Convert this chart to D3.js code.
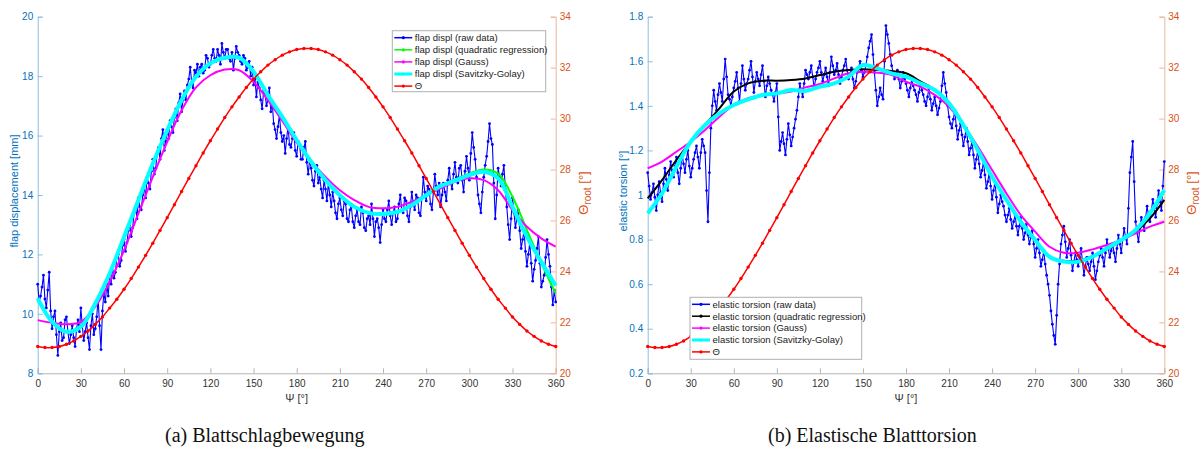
<!DOCTYPE html>
<html>
<head>
<meta charset="utf-8">
<script src="https://cdn.jsdelivr.net/npm/d3@7"></script>
<style>
  body { margin: 0; background: #fff; }
  svg { display: block; font-family: "Liberation Sans", Arial, sans-serif; }
</style>
</head>
<body>
<script>
// Psi grid
var psiRaw = d3.range(0, 361, 1);     // raw samples every 1 deg
var psiFit = d3.range(0, 361, 10);    // smoothed curves every 10 deg
var psiTheta = d3.range(0, 361, 5);   // root pitch every 5 deg
var psiTicks = d3.range(0, 361, 30);

// root pitch angle Theta [deg] (same in both panels)
var theta = [21.05,21.01,21.01,21.05,21.14,21.27,21.45,21.66,21.92,22.21,22.56,22.91,23.30,23.72,24.17,24.63,25.11,25.61,26.11,26.62,27.14,27.65,28.15,28.65,29.13,29.59,30.04,30.46,30.85,31.22,31.55,31.84,32.10,32.31,32.49,32.62,32.71,32.75,32.75,32.71,32.62,32.49,32.31,32.10,31.84,31.55,31.22,30.85,30.46,30.04,29.59,29.13,28.65,28.15,27.65,27.14,26.62,26.11,25.61,25.11,24.63,24.17,23.72,23.30,22.91,22.56,22.21,21.92,21.66,21.45,21.27,21.14,21.05];

// (a) flap displacement [mm]
var flapRaw = [11.0,10.4,10.6,10.9,11.3,10.5,10.2,10.8,11.4,10.1,9.5,9.9,10.1,9.3,8.6,9.4,9.7,9.1,9.2,9.8,
  9.9,9.4,9.0,9.3,9.6,9.2,8.9,9.5,9.8,9.4,10.2,9.6,9.1,9.4,9.7,9.2,8.8,9.6,10.0,9.3,
  9.5,9.9,10.5,9.6,8.8,10.1,10.7,10.4,11.0,10.6,11.3,11.0,11.6,11.2,11.4,11.9,12.0,11.6,11.8,12.3,
  12.5,12.1,12.4,12.8,13.0,12.6,12.9,13.4,13.6,13.2,13.9,13.6,13.5,14.0,14.3,13.9,14.6,14.4,14.2,14.8,
  15.2,14.7,14.9,15.4,15.6,15.2,15.9,16.2,15.5,15.8,16.2,15.9,16.5,16.3,16.1,16.6,16.9,16.5,17.1,17.4,
  16.8,17.2,17.5,17.2,17.7,17.9,18.3,17.8,17.6,18.2,18.1,18.4,18.0,18.3,18.4,18.1,18.2,18.7,18.6,18.3,
  18.4,18.7,18.9,18.6,18.5,18.9,18.7,18.4,19.1,18.8,18.6,18.9,18.9,18.6,18.5,18.8,18.2,18.6,19.0,18.8,
  18.7,18.5,18.4,18.7,18.6,18.2,18.3,18.5,18.0,18.3,17.7,17.9,17.3,17.8,17.6,17.2,16.9,17.5,17.4,17.0,
  17.2,17.6,16.8,17.1,16.4,16.2,15.9,16.3,16.7,16.1,15.8,16.0,15.4,15.9,16.3,15.7,15.6,15.9,16.1,15.5,
  15.3,15.8,15.7,15.2,15.2,15.6,15.8,15.1,14.7,15.2,14.9,14.5,14.3,14.8,15.0,14.4,14.6,14.2,13.9,14.5,
  14.2,13.8,14.4,14.0,13.6,14.1,13.8,13.4,13.2,13.7,13.9,13.5,13.3,13.8,13.7,13.2,13.1,13.5,13.6,13.1,
  12.9,13.3,13.5,13.1,13.0,13.6,13.4,12.9,12.8,13.2,13.3,13.0,13.7,13.2,12.6,13.1,13.2,12.9,12.4,13.0,
  13.5,13.2,13.1,13.5,13.8,13.3,13.0,13.4,13.6,13.1,13.2,13.7,14.0,13.5,13.4,13.9,13.8,13.3,13.1,13.6,
  14.1,13.7,13.5,14.0,13.9,13.4,13.3,13.9,14.6,14.1,13.8,14.3,14.2,13.7,13.5,14.1,14.7,14.3,14.0,14.4,
  13.6,14.0,14.4,14.1,13.8,14.5,14.9,14.4,14.2,14.7,15.1,14.6,14.4,14.9,15.0,14.5,14.1,14.8,15.3,14.9,
  14.5,15.4,16.1,15.6,15.2,14.6,14.0,13.7,13.4,14.1,14.6,15.0,15.3,15.8,16.4,15.9,15.7,14.4,13.2,14.0,
  14.9,14.6,14.3,14.7,15.0,14.2,13.6,13.0,12.5,13.2,13.9,13.4,12.9,13.2,13.5,12.8,12.2,12.5,12.8,12.1,
  11.6,12.0,12.4,11.7,11.1,11.5,11.8,12.2,12.6,11.7,10.9,11.1,11.3,11.9,12.5,12.0,11.6,10.9,10.3,10.8,
  10.4];
var flapQuad = [10.52,9.73,9.40,9.57,10.35,11.36,12.59,13.83,15.06,16.18,17.19,17.98,18.43,18.62,18.62,18.15,17.36,16.63,15.85,15.12,14.50,13.99,13.60,13.40,13.36,13.43,13.66,13.99,14.30,14.52,14.72,14.86,14.72,13.94,12.82,11.70,10.69];
var flapGauss = [9.79,9.70,9.65,9.73,10.24,11.08,12.14,13.38,14.61,15.79,16.85,17.62,18.03,18.22,18.20,17.81,17.19,16.49,15.76,15.14,14.61,14.16,13.83,13.60,13.55,13.60,13.77,13.99,14.22,14.44,14.56,14.50,14.16,13.49,12.93,12.54,12.26];
var flapSG = [10.52,9.73,9.40,9.57,10.35,11.36,12.59,13.83,15.06,16.18,17.19,17.98,18.43,18.62,18.62,18.15,17.36,16.63,15.85,15.12,14.50,13.99,13.60,13.40,13.36,13.43,13.66,13.99,14.30,14.48,14.67,14.78,14.56,13.60,12.59,11.75,10.95];

// (b) elastic torsion [deg]
var torsRaw = [1.10,1.04,0.98,1.01,1.05,0.99,0.93,1.00,1.06,1.01,0.97,1.05,1.12,1.07,1.02,1.09,1.15,1.11,1.08,1.13,
  1.17,1.10,1.05,1.12,1.18,1.14,1.10,1.16,1.20,1.13,1.08,1.12,1.16,1.19,1.22,1.17,1.12,1.19,1.25,1.22,
  1.19,1.02,0.88,1.10,1.30,1.40,1.47,1.42,1.38,1.45,1.50,1.46,1.42,1.52,1.61,1.53,1.45,1.43,1.40,1.44,
  1.48,1.51,1.55,1.48,1.42,1.50,1.58,1.52,1.47,1.50,1.52,1.56,1.60,1.53,1.46,1.51,1.55,1.52,1.49,1.54,
  1.58,1.51,1.44,1.49,1.53,1.50,1.47,1.45,1.42,1.46,1.50,1.35,1.20,1.24,1.28,1.23,1.18,1.25,1.32,1.27,
  1.22,1.26,1.30,1.34,1.38,1.44,1.50,1.47,1.44,1.50,1.56,1.54,1.52,1.55,1.58,1.53,1.48,1.52,1.55,1.57,
  1.60,1.55,1.51,1.54,1.57,1.53,1.49,1.55,1.62,1.58,1.54,1.56,1.59,1.54,1.50,1.53,1.56,1.58,1.61,1.56,
  1.52,1.54,1.57,1.52,1.48,1.51,1.55,1.57,1.60,1.56,1.53,1.55,1.58,1.62,1.66,1.69,1.72,1.63,1.55,1.47,
  1.40,1.44,1.48,1.45,1.43,1.60,1.76,1.72,1.68,1.63,1.58,1.55,1.52,1.54,1.56,1.52,1.48,1.51,1.55,1.52,
  1.50,1.47,1.44,1.48,1.52,1.49,1.47,1.45,1.42,1.46,1.50,1.47,1.45,1.42,1.40,1.44,1.48,1.43,1.38,1.41,
  1.44,1.40,1.36,1.39,1.42,1.49,1.55,1.50,1.46,1.40,1.35,1.32,1.30,1.34,1.38,1.31,1.25,1.29,1.32,1.27,
  1.22,1.26,1.30,1.24,1.18,1.21,1.24,1.18,1.12,1.16,1.20,1.14,1.08,1.11,1.15,1.09,1.03,1.06,1.10,1.04,
  0.98,1.02,1.06,0.99,0.92,0.96,1.00,0.97,0.95,0.91,0.88,0.91,0.94,0.89,0.85,0.88,0.91,0.86,0.82,0.86,
  0.90,0.85,0.80,0.83,0.87,0.82,0.78,0.81,0.84,0.78,0.72,0.76,0.80,0.74,0.68,0.71,0.75,0.69,0.64,0.60,
  0.55,0.48,0.42,0.37,0.33,0.46,0.60,0.69,0.78,0.82,0.86,0.79,0.72,0.76,0.80,0.73,0.66,0.70,0.74,0.71,
  0.68,0.72,0.76,0.70,0.64,0.68,0.72,0.69,0.66,0.70,0.74,0.68,0.62,0.66,0.70,0.73,0.76,0.72,0.68,0.74,
  0.80,0.76,0.72,0.75,0.78,0.74,0.70,0.76,0.82,0.78,0.74,0.80,0.85,0.81,0.78,0.94,1.10,1.17,1.24,1.06,
  0.88,0.83,0.79,0.85,0.90,0.87,0.84,0.90,0.95,0.91,0.88,0.93,0.98,0.94,0.90,0.96,1.02,0.97,0.93,1.04,
  1.15];
var torsQuad = [0.985,1.067,1.157,1.239,1.314,1.389,1.464,1.501,1.513,1.513,1.516,1.523,1.538,1.553,1.561,1.564,1.561,1.556,1.546,1.51,1.471,1.404,1.314,1.202,1.082,0.978,0.880,0.798,0.723,0.705,0.705,0.726,0.756,0.795,0.835,0.895,0.978];
var torsGauss = [1.120,1.150,1.194,1.239,1.292,1.351,1.404,1.434,1.449,1.456,1.464,1.483,1.498,1.523,1.546,1.553,1.549,1.538,1.508,1.486,1.449,1.396,1.314,1.217,1.112,1.007,0.910,0.836,0.768,0.741,0.741,0.756,0.776,0.798,0.828,0.858,0.880];
var torsSG = [0.918,1.007,1.127,1.239,1.314,1.366,1.404,1.429,1.449,1.456,1.471,1.467,1.486,1.501,1.531,1.583,1.568,1.546,1.531,1.501,1.471,1.411,1.314,1.202,1.082,0.978,0.880,0.798,0.723,0.701,0.701,0.723,0.761,0.798,0.843,0.918,1.022];

var blueAx = "#0072BD", redAx = "#D95319";
var w = 1203, h = 449;
var plotTop = 16.7, plotBottom = 373.3;

var svg = d3.select("body").append("svg")
  .attr("width", w)
  .attr("height", h);

function drawPanel(p) {
  var x = d3.scaleLinear().domain([0, 360]).range([p.x0, p.x1]);
  var yL = d3.scaleLinear().domain(p.yDomain).range([plotBottom, plotTop]);
  var yR = d3.scaleLinear().domain([20, 34]).range([plotBottom, plotTop]);
  var g = svg.append("g");

  // axes
  var xa = g.append("g").attr("transform", "translate(0," + plotBottom + ")")
    .call(d3.axisBottom(x).tickValues(psiTicks).tickSize(-5).tickPadding(7));
  xa.select(".domain").attr("stroke", "#b4b4b4");
  xa.selectAll(".tick line").attr("stroke", "#b4b4b4");
  xa.selectAll("text").attr("fill", "#333").style("font-size", "10px");

  var la = g.append("g").attr("transform", "translate(" + p.x0 + ",0)")
    .call(d3.axisLeft(yL).tickValues(p.yTicks).tickFormat(p.fmt).tickSize(-5).tickPadding(4.5));
  la.select(".domain").attr("stroke", "#8dbde3");
  la.selectAll(".tick line").attr("stroke", "#8dbde3");
  la.selectAll("text").attr("fill", blueAx).style("font-size", "10px");

  var ra = g.append("g").attr("transform", "translate(" + p.x1 + ",0)")
    .call(d3.axisRight(yR).tickValues(d3.range(20, 35, 2)).tickSize(-5).tickPadding(4));
  ra.select(".domain").attr("stroke", "#efb49a");
  ra.selectAll(".tick line").attr("stroke", "#efb49a");
  ra.selectAll("text").attr("fill", redAx).style("font-size", "10px");

  // axis labels
  g.append("text")
    .attr("transform", "translate(" + (p.x0 + p.ylabDx) + "," + 191 + ") rotate(-90)")
    .attr("text-anchor", "middle").attr("dy", "0.35em")
    .attr("fill", blueAx).style("font-size", "11px")
    .text(p.ylabel);
  var tl = g.append("text")
    .attr("transform", "translate(" + (p.x1 + 27.5) + "," + 193 + ") rotate(-90)")
    .attr("text-anchor", "middle").attr("dy", "0.35em")
    .attr("fill", redAx).style("font-size", "13px");
  tl.append("tspan").text("\u0398");
  tl.append("tspan").attr("dy", "3").style("font-size", "10px").text("root");
  tl.append("tspan").attr("dy", "-3").text(" [\u00b0]");
  g.append("text")
    .attr("x", (p.x0 + p.x1) / 2).attr("y", 398)
    .attr("text-anchor", "middle").attr("dy", "0.35em")
    .attr("fill", "#333").style("font-size", "11px")
    .text("\u03a8 [\u00b0]");

  // caption
  g.append("text")
    .attr("x", p.capX).attr("y", 442)
    .style("font-family", "'Liberation Serif', 'DejaVu Serif', serif")
    .style("font-size", "20px").attr("fill", "#111")
    .text(p.caption);

  // series
  function line(xs, ys, yscale, col, lw, curve) {
    var pts = xs.map(function(d, i) { return [d, ys[i]]; });
    var l = d3.line().x(function(d) { return x(d[0]); }).y(function(d) { return yscale(d[1]); });
    if (curve) l.curve(d3.curveCatmullRom);
    g.append("path").datum(pts).attr("d", l)
      .attr("fill", "none").attr("stroke", col).attr("stroke-width", lw)
      .attr("stroke-linejoin", "round");
    return pts;
  }
  function dots(pts, yscale, col, r) {
    g.append("g").selectAll("circle").data(pts).enter().append("circle")
      .attr("cx", function(d) { return x(d[0]); })
      .attr("cy", function(d) { return yscale(d[1]); })
      .attr("r", r).attr("fill", col);
  }

  var rp = line(psiRaw, p.raw, yL, "#0000ff", 1.1, false);
  dots(rp, yL, "#0000ff", 1.4);
  line(psiFit, p.quad, yL, p.quadCol, 2, true);
  line(psiFit, p.gauss, yL, "#ff00ff", 2, true);
  line(psiFit, p.sg, yL, "#00ffff", 4, true);
  var tp = line(psiTheta, theta, yR, "#ff0000", 1.5, true);
  dots(tp, yR, "#ff0000", 1.7);

  // legend
  var lg = g.append("g").attr("transform", "translate(" + p.leg[0] + "," + p.leg[1] + ")");
  lg.append("rect").attr("width", p.leg[2]).attr("height", p.leg[3])
    .attr("fill", "#fff").attr("stroke", "#b0b0b0").attr("stroke-width", 1);
  var items = [
    {t: p.legName + " (raw data)", c: "#0000ff", lw: 1.5},
    {t: p.legName + " (quadratic regression)", c: p.quadCol, lw: 1.5},
    {t: p.legName + " (Gauss)", c: "#ff00ff", lw: 1.5},
    {t: p.legName + " (Savitzky-Golay)", c: "#00ffff", lw: 3},
    {t: "\u0398", c: "#ff0000", lw: 1.5}
  ];
  items.forEach(function(it, i) {
    var yy = 7 + i * p.legStep;
    lg.append("line").attr("x1", 2).attr("x2", 20).attr("y1", yy).attr("y2", yy)
      .attr("stroke", it.c).attr("stroke-width", it.lw);
    lg.append("circle").attr("cx", 11).attr("cy", yy).attr("r", 1.6).attr("fill", it.c);
    lg.append("text").attr("x", 22.5).attr("y", yy).attr("dy", "0.35em")
      .style("font-size", "9.5px").attr("fill", "#222").text(it.t);
  });
}

drawPanel({
  x0: 37.7, x1: 555.7, yDomain: [8, 20], yTicks: d3.range(8, 21, 2), fmt: d3.format("d"),
  ylabel: "flap displacement [mm]", ylabDx: -23.5,
  raw: flapRaw, quad: flapQuad, gauss: flapGauss, sg: flapSG, quadCol: "#00ff00",
  leg: [392.3, 30.7, 153.4, 61], legStep: 12.1, legName: "flap displ",
  caption: "(a) Blattschlagbewegung", capX: 165
});
drawPanel({
  x0: 647.7, x1: 1164.3, yDomain: [0.2, 1.8], yTicks: [0.2,0.4,0.6,0.8,1,1.2,1.4,1.6,1.8], fmt: d3.format("~g"),
  ylabel: "elastic torsion [\u00b0]", ylabDx: -25,
  raw: torsRaw, quad: torsQuad, gauss: torsGauss, sg: torsSG, quadCol: "#000000",
  leg: [690, 297.3, 171.7, 62], legStep: 11.9, legName: "elastic torsion",
  caption: "(b) Elastische Blatttorsion", capX: 768
});
</script>
</body>
</html>
